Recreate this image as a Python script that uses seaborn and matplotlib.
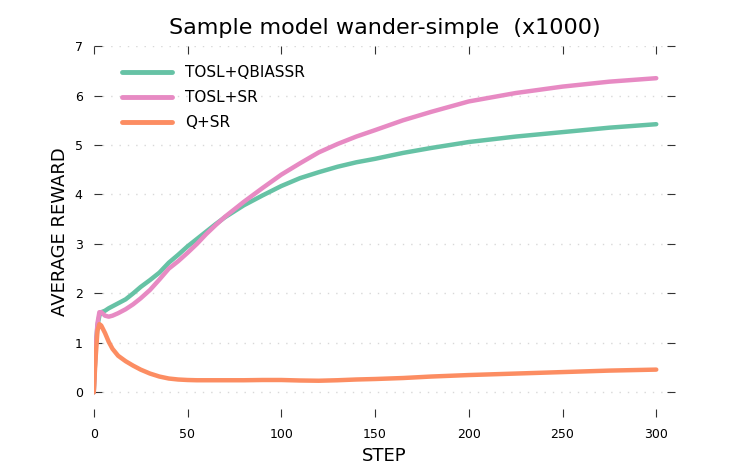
import numpy as np
import pandas as pd
import matplotlib
matplotlib.use('Agg')
import matplotlib.pyplot as plt
import seaborn as sns

# valores (em milhares de passos)
steps = [0, 1, 2, 3, 4, 6, 8, 10, 13, 17, 21, 25, 30, 35, 40, 45, 50, 55, 60, 65, 70,
         80, 90, 100, 110, 120, 130, 140, 150, 165, 180, 200, 225, 250, 275, 300]
tosl_qbiassr = [0, 0.9, 1.35, 1.55, 1.62, 1.65, 1.7, 1.74, 1.8, 1.88, 2.0, 2.13, 2.27, 2.42,
                2.62, 2.78, 2.95, 3.1, 3.25, 3.4, 3.54, 3.78, 3.98, 4.17, 4.33, 4.45, 4.56,
                4.65, 4.72, 4.84, 4.94, 5.06, 5.17, 5.26, 5.35, 5.42]
tosl_sr = [0, 0.9, 1.4, 1.62, 1.62, 1.55, 1.53, 1.55, 1.6, 1.68, 1.78, 1.9, 2.07, 2.28,
           2.5, 2.65, 2.82, 3.0, 3.2, 3.38, 3.55, 3.85, 4.13, 4.4, 4.63, 4.85, 5.02,
           5.17, 5.3, 5.5, 5.67, 5.88, 6.05, 6.18, 6.28, 6.35]
q_sr = [0, 0.7, 1.25, 1.38, 1.35, 1.2, 1.02, 0.88, 0.74, 0.63, 0.54, 0.46, 0.38, 0.32,
        0.28, 0.26, 0.25, 0.245, 0.245, 0.245, 0.245, 0.245, 0.25, 0.25, 0.24, 0.235, 0.245,
        0.26, 0.27, 0.29, 0.32, 0.35, 0.38, 0.41, 0.44, 0.46]

nomes = ['TOSL+QBIASSR', 'TOSL+SR', 'Q+SR']
cores = ['#66c2a5', '#e78ac3', '#fc8d62']

df = pd.DataFrame({'step': steps * 3,
                   'reward': tosl_qbiassr + tosl_sr + q_sr,
                   'metodo': sum([[n] * len(steps) for n in nomes], [])})

sns.set_style('white')
plt.rcParams['text.color'] = 'black'
plt.rcParams['axes.labelcolor'] = 'black'

fig, ax = plt.subplots(figsize=(7.5, 4.65), dpi=100)
fig.subplots_adjust(left=0.125, right=0.9, bottom=0.103, top=0.901)

sns.lineplot(data=df, x='step', y='reward', hue='metodo', palette=cores,
             linewidth=3.2, ax=ax)

ax.set_xlim(0, 310)
ax.set_ylim(-0.5, 7)
ax.set_xticks([0, 50, 100, 150, 200, 250, 300])
ax.set_yticks(range(0, 8))

for s in ax.spines.values():
    s.set_visible(False)
ax.tick_params(direction='in', length=6, width=0.8, colors='#333333', labelcolor='black',
               labelsize=9, top=True, right=True, bottom=True, left=True, pad=8)
ax.tick_params(axis='y', labelright=False)
ax.yaxis.grid(True, linestyle=(0, (1, 5)), color='#d8d8d8', linewidth=1)

ax.set_title('Sample model wander-simple  (x1000)', fontsize=16, color='black', pad=9)
ax.set_xlabel('STEP', fontsize=13)
ax.set_ylabel('AVERAGE REWARD', fontsize=13)

leg = ax.legend(loc='upper left', bbox_to_anchor=(0.025, 0.985), frameon=False,
                fontsize=11, handlelength=3.3, labelspacing=0.65, title=None)
for l in leg.get_lines():
    l.set_linewidth(3.5)

plt.savefig('out.png', dpi=100)
